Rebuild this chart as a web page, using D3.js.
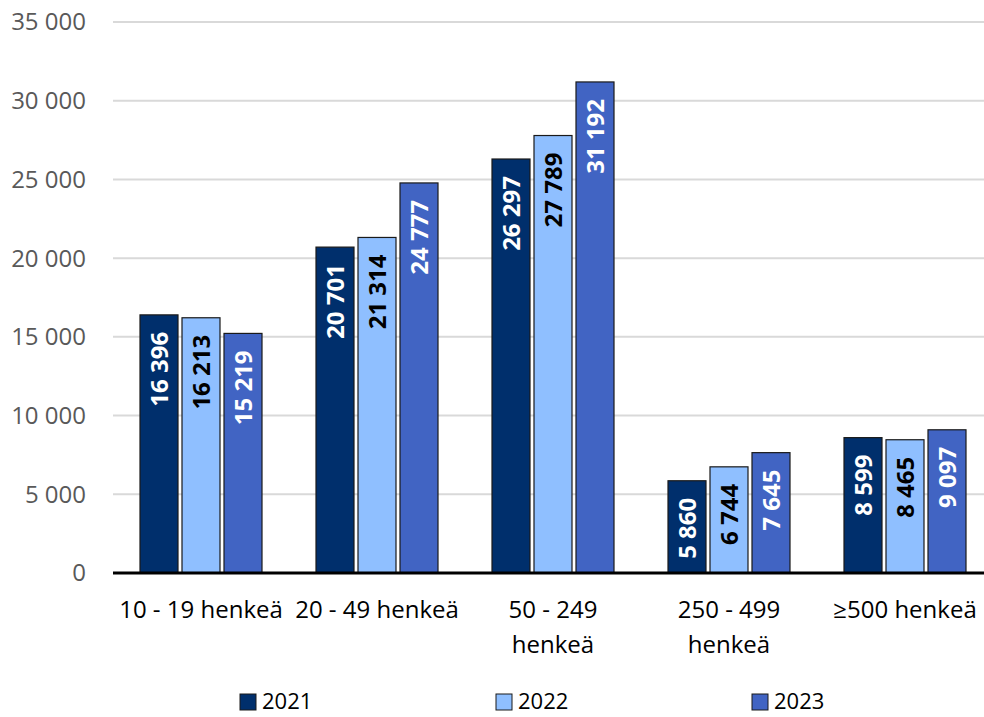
<!DOCTYPE html>
<html>
<head>
<meta charset="utf-8">
<script src="https://cdn.jsdelivr.net/npm/d3@7"></script>
<style>
  body { margin: 0; background: #fff; }
  svg { font-family: "Open Sans", sans-serif; }
</style>
</head>
<body>
<svg id="vis" width="984" height="717"></svg>
<script>
// data
const categories = ["10 - 19 henkeä", "20 - 49 henkeä", "50 - 249 henkeä", "250 - 499 henkeä", "≥500 henkeä"];
const categoryLines = [["10 - 19 henkeä"], ["20 - 49 henkeä"], ["50 - 249", "henkeä"], ["250 - 499", "henkeä"], ["≥500 henkeä"]];
const years = ["2021", "2022", "2023"];
const values2021 = [16396, 20701, 26297, 5860, 8599];
const values2022 = [16213, 21314, 27789, 6744, 8465];
const values2023 = [15219, 24777, 31192, 7645, 9097];
const yTicks = [0, 5000, 10000, 15000, 20000, 25000, 30000, 35000];

const colors = { "2021": "#002f6c", "2022": "#8fbfff", "2023": "#4164c3" };
const labelColors = { "2021": "#fff", "2022": "#000", "2023": "#fff" };

const series = { "2021": values2021, "2022": values2022, "2023": values2023 };
const rows = categories.map((c, i) => ({
  cat: c,
  vals: years.map(y => ({ year: y, value: series[y][i] }))
}));

const fmt = d3.formatLocale({ decimal: ",", thousands: " ", grouping: [3], currency: ["", ""] }).format(",d");

const svg = d3.select("#vis");
const y = d3.scaleLinear().domain([0, 35000]).range([573, 22]);
const x0 = d3.scaleBand().domain(categories).range([113, 993]).padding(0);
const x1 = d3.scaleBand().domain(years).range([27, 149]).paddingInner(0.0952).paddingOuter(0);

// gridlines
svg.append("g").selectAll("line")
  .data(yTicks.filter(t => t > 0))
  .enter().append("line")
  .attr("x1", 113).attr("x2", 984)
  .attr("y1", d => y(d)).attr("y2", d => y(d))
  .attr("stroke", "#d9d9d9").attr("stroke-width", 2);

// y labels
svg.append("g").selectAll("text")
  .data(yTicks)
  .enter().append("text")
  .attr("x", 86).attr("y", d => y(d))
  .attr("dy", "0.35em")
  .attr("text-anchor", "end")
  .attr("font-size", 24)
  .attr("fill", "#595959")
  .text(d => fmt(d));

// bars
const groups = svg.append("g").selectAll("g")
  .data(rows)
  .enter().append("g")
  .attr("transform", d => `translate(${x0(d.cat)},0)`);

groups.selectAll("rect")
  .data(d => d.vals)
  .enter().append("rect")
  .attr("x", d => x1(d.year))
  .attr("y", d => y(d.value))
  .attr("width", x1.bandwidth())
  .attr("height", d => y(0) - y(d.value))
  .attr("fill", d => colors[d.year])
  .attr("stroke", "#1a1a1a")
  .attr("stroke-width", 1.2);

groups.selectAll("text")
  .data(d => d.vals)
  .enter().append("text")
  .attr("transform", d => `translate(${x1(d.year) + x1.bandwidth() / 2},${y(d.value) + 17}) rotate(-90)`)
  .attr("text-anchor", "end")
  .attr("dy", "0.36em")
  .attr("font-size", 24)
  .attr("font-weight", "bold")
  .attr("fill", d => labelColors[d.year])
  .text(d => fmt(d.value));

// baseline
svg.append("line")
  .attr("x1", 113).attr("x2", 984)
  .attr("y1", y(0)).attr("y2", y(0))
  .attr("stroke", "#000").attr("stroke-width", 3);

// category labels
const cl = svg.append("g").selectAll("text")
  .data(categories)
  .enter().append("text")
  .attr("x", d => x0(d) + x0.bandwidth() / 2)
  .attr("y", 618)
  .attr("text-anchor", "middle")
  .attr("font-size", 24)
  .attr("fill", "#000");
cl.selectAll("tspan")
  .data((d, i) => categoryLines[i])
  .enter().append("tspan")
  .attr("x", function() { return this.parentNode.getAttribute("x"); })
  .attr("dy", (d, i) => i === 0 ? 0 : 35)
  .text(d => d);

// legend
const legendX = [240, 496, 752];
const lg = svg.append("g").selectAll("g")
  .data(years)
  .enter().append("g")
  .attr("transform", (d, i) => `translate(${legendX[i]},694)`);
lg.append("rect")
  .attr("width", 16).attr("height", 16)
  .attr("fill", d => colors[d])
  .attr("stroke", "#1a1a1a").attr("stroke-width", 1);
lg.append("text")
  .attr("x", 22).attr("y", 8).attr("dy", "0.34em")
  .attr("font-size", 22)
  .attr("fill", "#000")
  .text(d => d);
</script>
</body>
</html>
